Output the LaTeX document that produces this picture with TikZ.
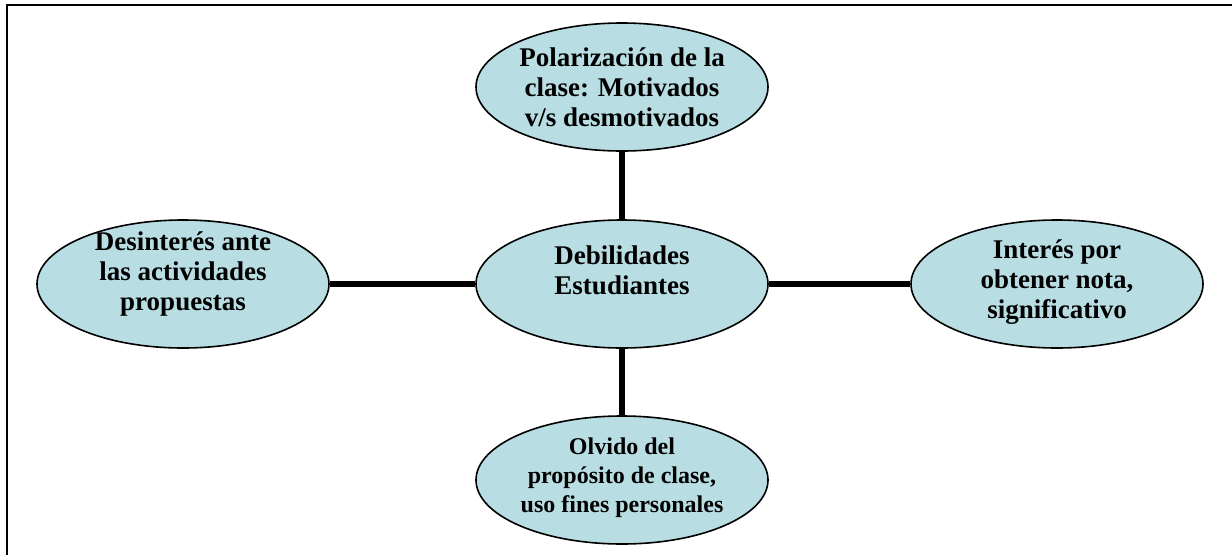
\documentclass[tikz,border=0pt]{standalone}
\usepackage{fontspec}
\setmainfont{Liberation Serif}
\usetikzlibrary{shapes.geometric}
\definecolor{bubblefill}{RGB}{184,222,227}
\tikzset{
  bubble/.style={ellipse, draw=black, line width=1.6pt, fill=bubblefill,
    minimum width=292pt, minimum height=128pt, inner sep=0pt},
  txt/.style={align=center, font=\bfseries\fontsize{27}{30}\selectfont, inner sep=0pt},
  smalltxt/.style={align=center, font=\bfseries\fontsize{24}{29}\selectfont, inner sep=0pt},
  link/.style={line width=6pt, black},
  frame/.style={line width=2.2pt, black}
}
\begin{document}
\begin{tikzpicture}[x=1pt,y=-1pt]
\useasboundingbox (0,0) rectangle (1232,555);
\coordinate (fa) at (7,555);
\coordinate (fb) at (7,5);
\coordinate (fc) at (1232,5);
\draw[frame] (fa) -- (fb) -- (fc);

\node[bubble] (t) at (622,87) {};
\node[bubble] (c) at (622,284) {};
\node[bubble] (b) at (622,480) {};
\node[bubble] (l) at (183,284) {};
\node[bubble] (r) at (1057,284) {};

\node[txt] (tt) at (622,87) {Polarización de la\\clase: Motivados\\v/s desmotivados};
\node[txt] (ct) at (622,270) {Debilidades\\Estudiantes};
\node[smalltxt] (bt) at (622,478) {Olvido del\\propósito de clase,\\uso fines personales};
\node[txt] (lt) at (183,274) {Desinterés ante\\las actividades\\propuestas};
\node[txt] (rt) at (1057,282) {Interés por\\obtener nota,\\significativo};

\draw[link] (c.north) -- (t.south);
\draw[link] (c.south) -- (b.north);
\draw[link] (c.west) -- (l.east);
\draw[link] (c.east) -- (r.west);
\end{tikzpicture}
\end{document}
